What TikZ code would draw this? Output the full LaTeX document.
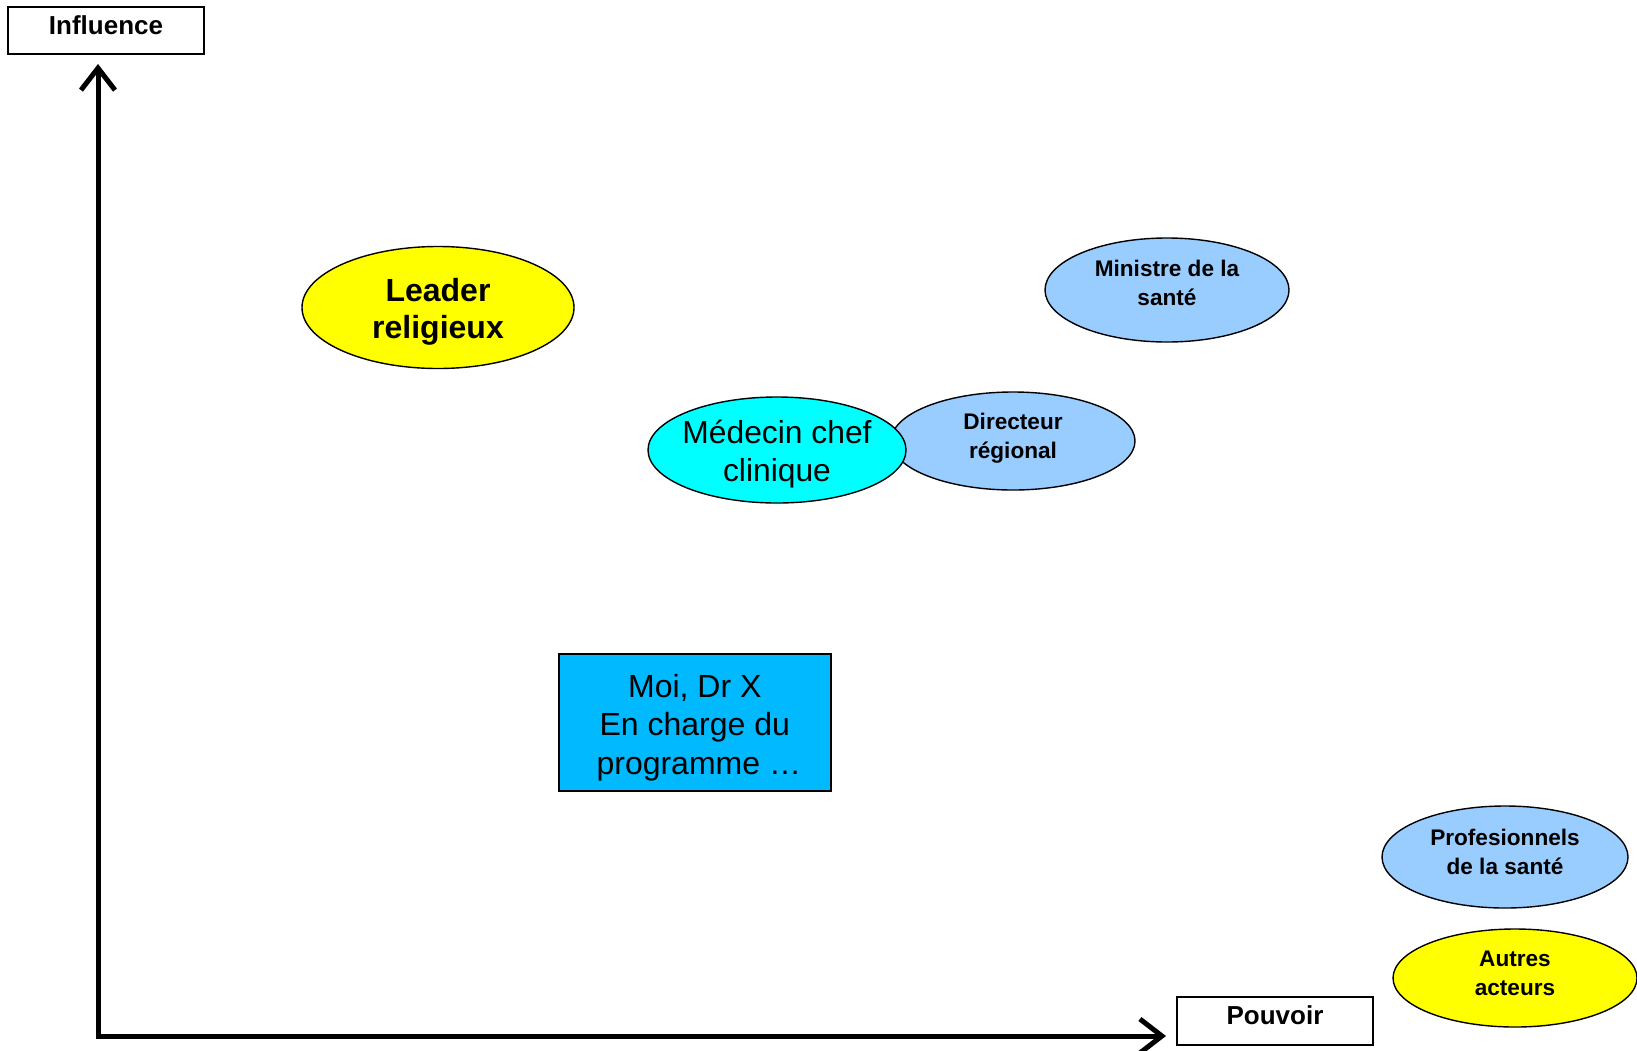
\documentclass[tikz,border=0pt]{standalone}
\usepackage{fontspec}
\setmainfont{Liberation Sans}
\usetikzlibrary{shapes.geometric,arrows.meta}
\definecolor{lblue}{HTML}{99CCFF}
\definecolor{boxblue}{HTML}{00B9FF}
\definecolor{cyanfill}{HTML}{00FFFF}
\definecolor{yel}{HTML}{FFFF00}
\begin{document}
\begin{tikzpicture}[x=0.5pt,y=-0.5pt,
  axis/.style={line width=2.5pt,-{Straight Barb[length=11pt,width=17pt,line width=2.5pt]}},
  labelbox/.style={draw,line width=0.6pt,rectangle,inner sep=0pt},
  labeltxt/.style={font=\fontsize{13}{15}\selectfont\bfseries},
  actor/.style={draw,line width=0.7pt,ellipse,inner sep=0pt},
  txt/.style={align=center,inner sep=0pt},
  small/.style={txt,font=\fontsize{11.3}{14.5}\selectfont\bfseries},
]
\useasboundingbox (0,0) rectangle (1637,1050);

% axis labels
\node[labelbox,minimum width=98pt,minimum height=23.5pt] (infl) at (106,30.5) {};
\node[labeltxt] (infltxt) at (106,25) {Influence};
\node[labelbox,minimum width=98pt,minimum height=24pt] (pouv) at (1275,1021) {};
\node[labeltxt] (pouvtxt) at (1275,1015) {Pouvoir};

% axes
\coordinate (origin) at (98,1036);
\coordinate (ytop) at (98,64);
\coordinate (xend) at (1166,1036);
\draw[line width=2.5pt] (98,1038.5) -- (98,1036);
\draw[axis] (origin) -- (ytop);
\draw[axis] ([xshift=-1.25pt]origin) -- (xend);

% actors: shapes, then their texts
\node[actor,fill=yel,minimum width=136pt,minimum height=61pt] (leader) at (438,307.5) {};
\node[txt,font=\fontsize{16}{18.5}\selectfont\bfseries] (leadertxt) at (438,312) {Leader\\religieux};

\node[actor,fill=lblue,minimum width=122pt,minimum height=52pt] (ministre) at (1167,290) {};
\node[small] (ministretxt) at (1167,283) {Ministre de la\\santé};

\node[actor,fill=lblue,minimum width=122pt,minimum height=49pt] (directeur) at (1013,441) {};
\node[small] (directeurtxt) at (1013,438) {Directeur\\régional};

\node[actor,fill=cyanfill,minimum width=129pt,minimum height=53pt] (medecin) at (777,450) {};
\node[txt,font=\fontsize{15.9}{19.4}\selectfont] (medecintxt) at (777,454) {Médecin chef\\clinique};

\node[draw,line width=0.7pt,rectangle,fill=boxblue,minimum width=136pt,minimum height=68.5pt,
      inner sep=0pt] (moi) at (694.8,722.5) {};
\node[txt,font=\fontsize{16}{19.3}\selectfont] (moitxt) at (694.8,727.5) {Moi, Dr X\\En charge du\\\hspace{4pt}programme \dots};

\node[actor,fill=lblue,minimum width=123pt,minimum height=51pt] (prof) at (1505,857) {};
\node[small] (proftxt) at (1505,852) {Profesionnels\\de la santé};

\node[actor,fill=yel,minimum width=122pt,minimum height=49pt] (autres) at (1515,978) {};
\node[small] (autrestxt) at (1515,973.5) {Autres\\acteurs};
\end{tikzpicture}
\end{document}
